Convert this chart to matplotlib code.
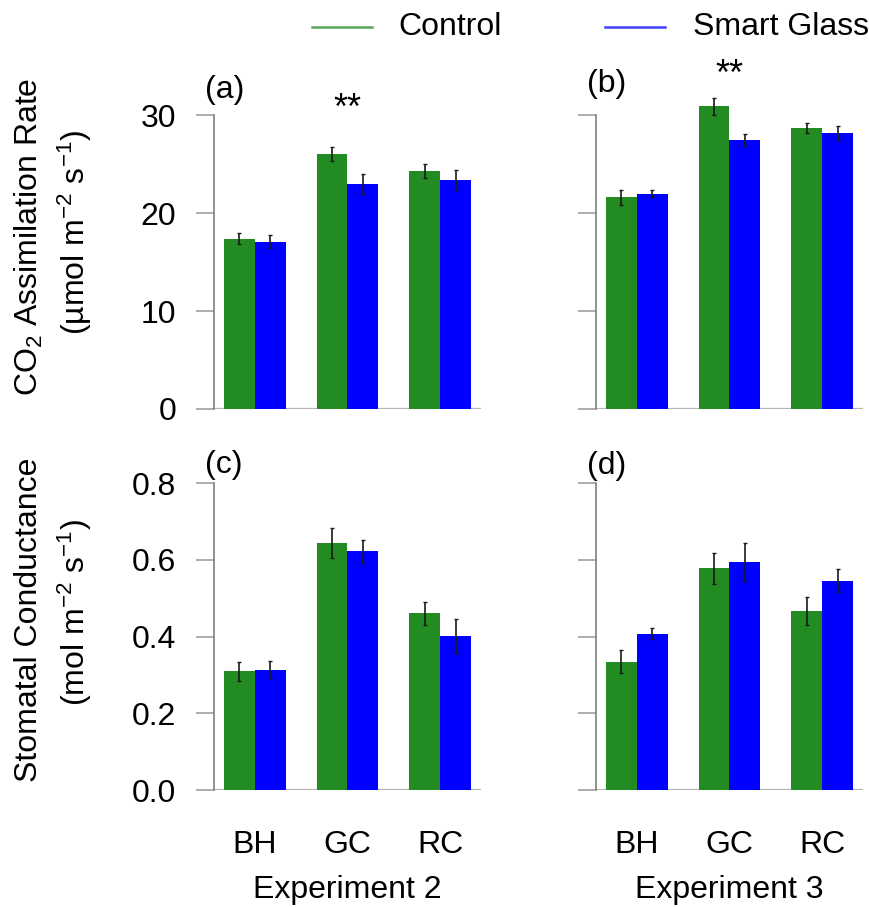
import numpy as np
import matplotlib.pyplot as plt
from matplotlib.lines import Line2D

plt.rcParams["font.family"] = ["Liberation Sans", "DejaVu Sans"]
plt.rcParams["mathtext.fontset"] = "custom"
plt.rcParams["mathtext.rm"] = "Liberation Sans"
plt.rcParams["mathtext.it"] = "Liberation Sans:italic"

# species groups and treatments
sites = ["BH", "GC", "RC"]
treatments = ["Control", "Smart Glass"]
colors = ["#228B22", "#0000FF"]

# CO2 assimilation rate (umol m-2 s-1), mean and s.e.
a_exp2_ctrl = [17.4, 26.0, 24.3]
a_exp2_sg = [17.1, 23.0, 23.4]
a_exp2_ctrl_se = [0.6, 0.7, 0.7]
a_exp2_sg_se = [0.7, 1.0, 1.0]

a_exp3_ctrl = [21.6, 30.9, 28.7]
a_exp3_sg = [22.0, 27.5, 28.2]
a_exp3_ctrl_se = [0.8, 0.9, 0.5]
a_exp3_sg_se = [0.4, 0.6, 0.7]

# stomatal conductance (mol m-2 s-1), mean and s.e.
g_exp2_ctrl = [0.309, 0.644, 0.461]
g_exp2_sg = [0.314, 0.623, 0.401]
g_exp2_ctrl_se = [0.025, 0.040, 0.030]
g_exp2_sg_se = [0.022, 0.030, 0.045]

g_exp3_ctrl = [0.335, 0.578, 0.466]
g_exp3_sg = [0.408, 0.594, 0.545]
g_exp3_ctrl_se = [0.030, 0.040, 0.036]
g_exp3_sg_se = [0.015, 0.050, 0.030]

experiments = ["Experiment 2", "Experiment 3"]
panel_tags = ["(a)", "(b)", "(c)", "(d)"]

W, H = 870, 907
fig = plt.figure(figsize=(W / 100, H / 100), dpi=100)

def px_axes(left, right, top, bottom):
    return fig.add_axes([left / W, 1 - bottom / H, (right - left) / W, (bottom - top) / H])

FS = 23
gray = "#7f7f7f"
# bar layout like R barplot(beside=TRUE): width 1, one unit between groups
ctrl_x = np.array([1.5, 4.5, 7.5])
sg_x = ctrl_x + 1
centers = ctrl_x + 0.5

panels = [
    (a_exp2_ctrl, a_exp2_sg, a_exp2_ctrl_se, a_exp2_sg_se),
    (a_exp3_ctrl, a_exp3_sg, a_exp3_ctrl_se, a_exp3_sg_se),
    (g_exp2_ctrl, g_exp2_sg, g_exp2_ctrl_se, g_exp2_sg_se),
    (g_exp3_ctrl, g_exp3_sg, g_exp3_ctrl_se, g_exp3_sg_se),
]
lefts = [214, 596]
rows = [(76, 409), (464, 790)]

for i, (ctrl, sg, ctrl_se, sg_se) in enumerate(panels):
    row, col = divmod(i, 2)
    top, bottom = rows[row]
    ax = px_axes(lefts[col], lefts[col] + 267, top, bottom)
    ax.bar(ctrl_x, ctrl, width=1, color=colors[0], zorder=2)
    ax.bar(sg_x, sg, width=1, color=colors[1], zorder=2)
    ax.errorbar(ctrl_x, ctrl, yerr=ctrl_se, fmt="none", ecolor="#1a1a1a",
                elinewidth=1.2, capsize=1.5, capthick=1, zorder=3)
    ax.errorbar(sg_x, sg, yerr=sg_se, fmt="none", ecolor="#1a1a1a",
                elinewidth=1.2, capsize=1.5, capthick=1, zorder=3)
    ax.axhline(0, color="#b5b5b5", lw=1.6, zorder=1)
    ax.set_xlim(0.68, 9.32)
    if row == 0:
        ax.set_ylim(0, 34)
        ax.set_yticks([0, 10, 20, 30])
        ax.spines["left"].set_bounds(0, 30)
        if col == 0:
            ax.set_yticklabels(["0", "10", "20", "30"])
        else:
            ax.set_yticklabels([])
        ax.set_xticks([])
    else:
        ax.set_ylim(0, 0.85)
        ax.set_yticks([0, 0.2, 0.4, 0.6, 0.8])
        ax.spines["left"].set_bounds(0, 0.8)
        if col == 0:
            ax.set_yticklabels(["0.0", "0.2", "0.4", "0.6", "0.8"])
        else:
            ax.set_yticklabels([])
        ax.set_xticks(centers)
        ax.set_xticklabels(sites)
        ax.tick_params(axis="x", length=0, pad=29, labelsize=FS)
        fig.text((lefts[col] + 133) / W, 1 - 898 / H, experiments[col],
                 ha="center", va="baseline", fontsize=FS)
    for s in ["top", "right", "bottom"]:
        ax.spines[s].set_visible(False)
    ax.spines["left"].set_color(gray)
    ax.spines["left"].set_linewidth(1.2)
    ax.tick_params(axis="y", direction="out", length=13, width=1.2,
                   color="#a0a0a0", pad=14, labelsize=FS)
    ax.patch.set_visible(False)

    # panel tag
    tag_y = [90, 84, 465, 466][i]
    fig.text((lefts[col] - 9) / W, 1 - tag_y / H, panel_tags[i],
             ha="left", va="center", fontsize=FS)

    # significance marks on GC
    if row == 0:
        star_y = [30.6, 34.1][col]
        ax.text(centers[1], star_y, "**", ha="center", va="center",
                fontsize=26, clip_on=False)

# y-axis titles
fig.text(29 / W, 1 - 237 / H, "CO$_2$ Assimilation Rate", rotation=90,
         ha="center", va="center", fontsize=FS)
fig.text(75 / W, 1 - 232 / H, "(µmol m$^{-2}$ s$^{-1}$)", rotation=90,
         ha="center", va="center", fontsize=FS)
fig.text(29 / W, 1 - 620 / H, "Stomatal Conductance", rotation=90,
         ha="center", va="center", fontsize=FS)
fig.text(75 / W, 1 - 613 / H, "(mol m$^{-2}$ s$^{-1}$)", rotation=90,
         ha="center", va="center", fontsize=FS)

# legend
legend_lines = [(312, 372, 398), (605, 665, 693)]
for (x0, x1, tx), name, c in zip(legend_lines, treatments, colors):
    fig.add_artist(Line2D([x0 / W, x1 / W], [1 - 27 / H, 1 - 27 / H],
                          color=c, lw=1.8, alpha=0.75))
    fig.text(tx / W, 1 - 27 / H, name, ha="left", va="center", fontsize=FS)

fig.savefig("out.png", dpi=100)
